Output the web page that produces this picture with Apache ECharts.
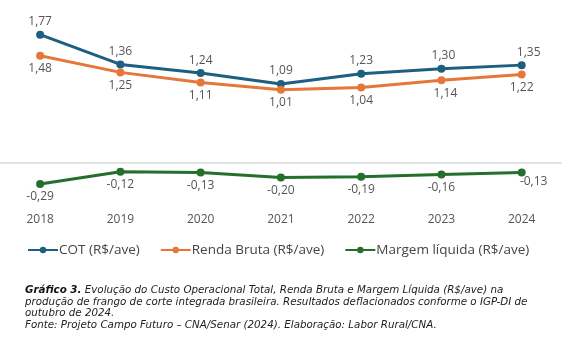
<!DOCTYPE html>
<html><head><meta charset="utf-8">
<script src="https://cdn.jsdelivr.net/npm/echarts@6/dist/echarts.min.js"></script>
<style>html,body{margin:0;padding:0;background:#fff}#c{width:585px;height:343px}</style>
</head><body><div id="c"></div>
<script>
const years = ['2018','2019','2020','2021','2022','2023','2024'];
const cot = [1.77, 1.36, 1.24, 1.09, 1.23, 1.30, 1.35];
const renda = [1.48, 1.25, 1.11, 1.01, 1.04, 1.14, 1.22];
const margem = [-0.29, -0.12, -0.13, -0.20, -0.19, -0.16, -0.13];
const seriesNames = ['COT (R$/ave)', 'Renda Bruta (R$/ave)', 'Margem líquida (R$/ave)'];
const colors = ['#1c5f80', '#e5773a', '#256f2c'];
const FONT = 'Open Sans';
const CAPFONT = 'DejaVu Sans';
const fmt = v => Number(v).toFixed(2).replace('.', ',');

const chart = echarts.init(document.getElementById('c'), null, {renderer: 'canvas'});
function mk(name, data, color, pos, extra) {
  return {
    name, type: 'line', data: data.map((v, i) => {
      const e = extra && extra[i];
      return e ? {value: v, label: e} : v;
    }),
    symbol: 'circle', symbolSize: 8,
    lineStyle: {width: 3, color}, itemStyle: {color},
    label: {show: true, position: pos, distance: 3, color: '#555', fontSize: 12, fontFamily: FONT,
      formatter: p => fmt(p.value)},
    z: 3
  };
}
const option = {
  animation: false,
  color: colors,
  grid: {left: -6.6, right: 23.2, top: 18, bottom: 136.5, containLabel: false},
  xAxis: {type: 'category', data: years, boundaryGap: true,
    axisLine: {show: false, onZero: false}, axisTick: {show: false},
    axisLabel: {color: '#555', fontSize: 12, fontFamily: FONT, margin: 7}},
  yAxis: {type: 'value', min: -0.6, max: 2.0, show: false, splitLine: {show: false}},
  legend: {
    left: 22, top: 238, itemWidth: 30, itemHeight: 8, itemGap: 20,
    textStyle: {color: '#444', fontSize: 13.5, fontFamily: FONT, padding: [0, 0, 0, -4]},
    data: seriesNames
  },
  series: [
    mk(seriesNames[0], cot, colors[0], 'top', {5: {offset: [2, 0]}, 6: {offset: [7, 0]}}),
    mk(seriesNames[1], renda, colors[1], 'bottom', {5: {offset: [4, 0]}}),
    Object.assign(mk(seriesNames[2], margem, colors[2], 'bottom', {6: {offset: [12, -4]}}), {
      markLine: {silent: true, symbol: 'none', label: {show: false},
        lineStyle: {color: '#e3e3e3', width: 2, type: 'solid'}, data: [{yAxis: 0}], z: 1}
    })
  ],
  graphic: [{
    type: 'text', left: 25, top: 284,
    style: {
      text: '{b|Gráfico 3.} {i|Evolução do Custo Operacional Total, Renda Bruta e Margem Líquida (R$/ave) na}\n{i|produção de frango de corte integrada brasileira. Resultados deflacionados conforme o IGP-DI de}\n{i|outubro de 2024.}\n{i|Fonte: Projeto Campo Futuro – CNA/Senar (2024). Elaboração: Labor Rural/CNA.}',
      rich: {
        b: {fontFamily: CAPFONT, fontStyle: 'italic', fontWeight: 'bold', fontSize: 10.3, fill: '#111', lineHeight: 11.8},
        i: {fontFamily: CAPFONT, fontStyle: 'italic', fontSize: 10.3, fill: '#222', lineHeight: 11.8}
      }
    }
  }]
};
chart.setOption(option);
</script></body></html>
